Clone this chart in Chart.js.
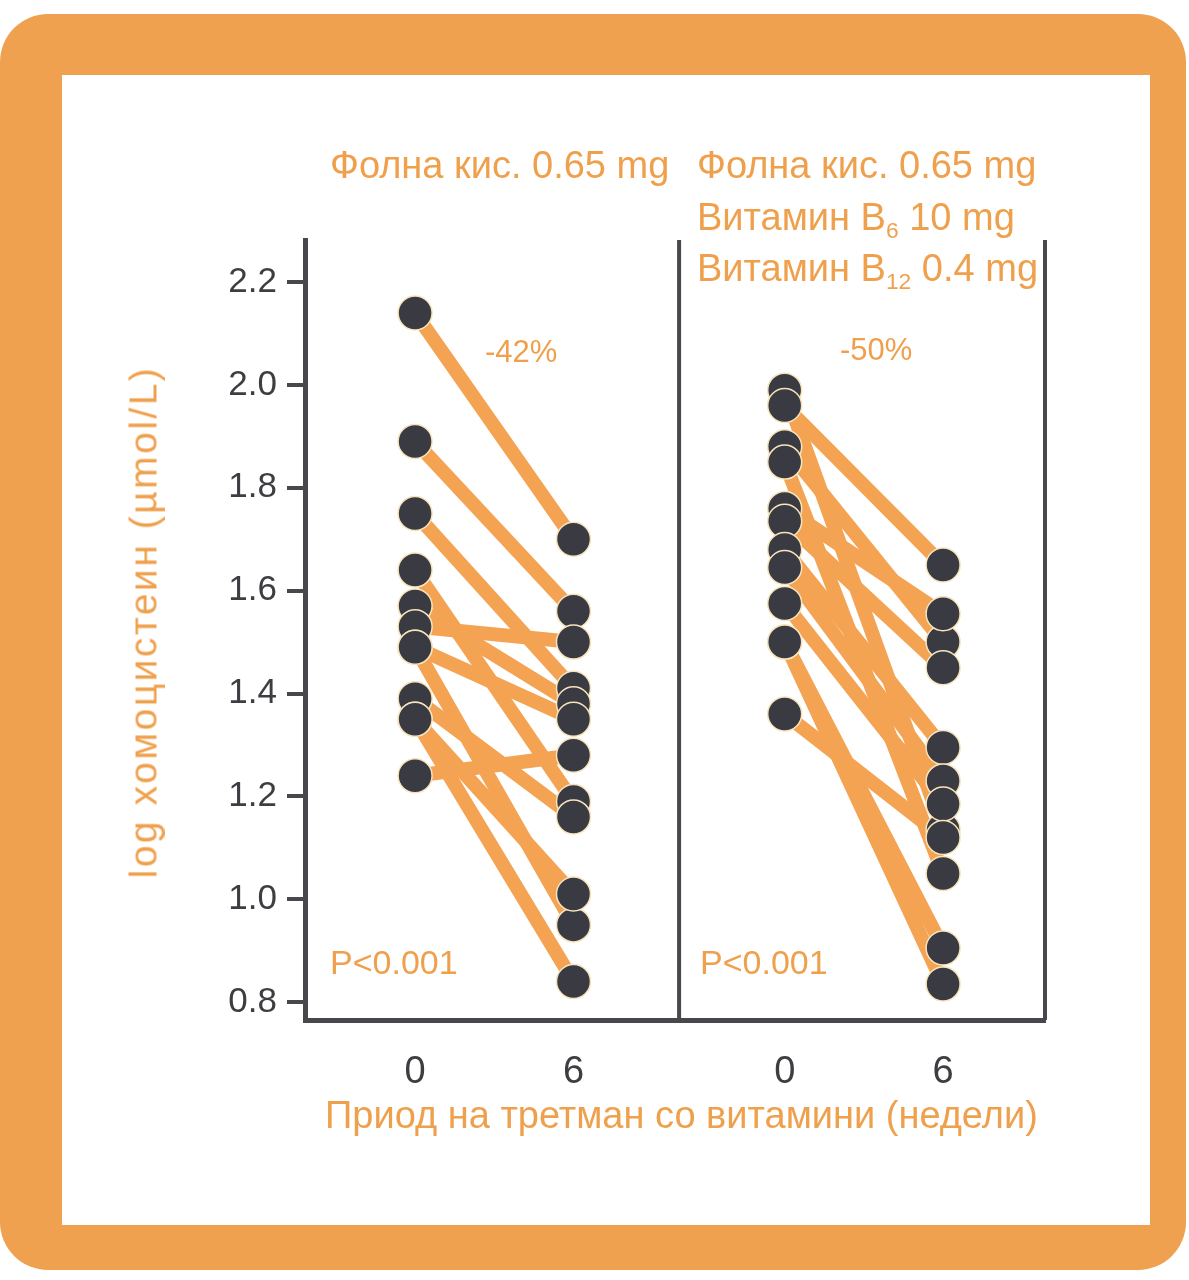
<!DOCTYPE html>
<html>
<head>
<meta charset="utf-8">
<script src="https://cdn.jsdelivr.net/npm/chart.js@4/dist/chart.umd.min.js"></script>
<style>
  body { margin: 0; background: #fff; width: 1189px; height: 1280px; position: relative; overflow: hidden; }
  .frame { position: absolute; left: 0; top: 14px; width: 1186px; height: 1256px; border-radius: 48px; background: #efa14f; }
  .inner { position: absolute; left: 62px; top: 75px; width: 1088px; height: 1150px; background: #fff; }
  #chartBox { position: absolute; left: 0; top: 0; width: 1189px; height: 1280px; }
  .lbl { position: absolute; color: #efa04c; font-family: "Liberation Sans Narrow", "Arial Narrow", "Liberation Sans", sans-serif; white-space: nowrap; line-height: 1; }
  .lbl sub { font-size: 60%; vertical-align: -0.35em; line-height: 0; }
</style>
</head>
<body>
<div class="frame"></div>
<div class="inner"></div>
<div id="chartBox"><canvas id="myChart"></canvas></div>

<div class="lbl" style="left:330px; top:146px; font-size:38px;">Фолна кис. 0.65 mg</div>
<div class="lbl" style="left:697px; top:146px; font-size:38px;">Фолна кис. 0.65 mg</div>
<div class="lbl" style="left:697px; top:198px; font-size:38px;">Витамин B<sub>6</sub> 10 mg</div>
<div class="lbl" style="left:697px; top:249px; font-size:38px;">Витамин B<sub>12</sub> 0.4 mg</div>
<div class="lbl" style="left:485px; top:336px; font-size:31px;">-42%</div>
<div class="lbl" style="left:840px; top:334px; font-size:31px;">-50%</div>
<div class="lbl" style="left:330px; top:945px; font-size:34px;">P&lt;0.001</div>
<div class="lbl" style="left:700px; top:945px; font-size:34px;">P&lt;0.001</div>
<div class="lbl" style="left:143px; top:622px; font-size:39px; letter-spacing:2.5px; transform: translate(-50%, -50%) rotate(-90deg);">log хомоцистеин (µmol/L)</div>
<div class="lbl" style="left:325px; top:1096px; font-size:38px;">Приод на третман со витамини (недели)</div>

<script>
// недели
const weeks = [0, 6];
// фолна киселина
const folicBefore = [2.14, 1.89, 1.75, 1.64, 1.57, 1.53, 1.49, 1.49, 1.39, 1.35, 1.35, 1.24];
const folicAfter  = [1.70, 1.56, 1.41, 1.19, 1.38, 1.50, 1.35, 0.95, 1.16, 1.01, 0.84, 1.28];
// фолна + B6 + B12
const comboBefore = [1.99, 1.96, 1.88, 1.85, 1.76, 1.735, 1.68, 1.645, 1.575, 1.50, 1.50, 1.36];
const comboAfter  = [1.135, 1.65, 1.50, 1.05, 1.555, 1.45, 1.295, 1.23, 1.185, 0.905, 0.835, 1.12];
const yTicks = [0.8, 1.0, 1.2, 1.4, 1.6, 1.8, 2.0, 2.2];

const PANEL2_SHIFT = 14;
const lineColor = '#f4a352';
const axisColor = '#48484c';

let datasets = [];
let dots = [];

function addPanel(before, after, shift) {
    for (let i = 0; i < before.length; i++) {
        let p0 = {x: weeks[0] + shift, y: before[i]};
        let p1 = {x: weeks[1] + shift, y: after[i]};
        datasets.push({
            data: [p0, p1],
            showLine: true,
            borderColor: lineColor,
            borderWidth: 14,
            pointRadius: 0,
            order: 2,
        });
        dots.push(p0, p1);
    }
}
addPanel(folicBefore, folicAfter, 0);
addPanel(comboBefore, comboAfter, PANEL2_SHIFT);

datasets.push({
    data: dots,
    pointRadius: 17,
    pointBackgroundColor: '#3a3b42',
    pointBorderColor: '#f7e4bc',
    pointBorderWidth: 1.5,
    order: 1,
});

// разделна линија и десна рамка
const panelLines = {
    id: 'panelLines',
    afterDraw(chart) {
        const ctx = chart.ctx;
        const area = chart.chartArea;
        const xs = chart.scales.x;
        ctx.save();
        ctx.strokeStyle = axisColor;
        ctx.lineWidth = 4;
        [xs.getPixelForValue(10), area.right].forEach(px => {
            ctx.beginPath();
            ctx.moveTo(px, area.top);
            ctx.lineTo(px, area.bottom);
            ctx.stroke();
        });
        ctx.restore();
    }
};

const ctx = document.getElementById('myChart').getContext('2d');
const chart = new Chart(ctx, {
    type: 'scatter',
    data: { datasets: datasets },
    plugins: [panelLines],
    options: {
        responsive: true,
        maintainAspectRatio: false,
        animation: false,
        layout: { padding: { left: 180, right: 144, top: 240, bottom: 180 } },
        plugins: { legend: { display: false }, tooltip: { enabled: false } },
        scales: {
            x: {
                type: 'linear',
                min: -4.17,
                max: 23.86,
                afterBuildTicks: scale => { scale.ticks = [0, 6, 14, 20].map(v => ({value: v})); },
                afterFit: scale => { scale.height = 80; },
                ticks: {
                    color: '#3e3e42',
                    font: { family: '"Liberation Sans Narrow", "Arial Narrow", sans-serif', size: 38 },
                    padding: 22,
                    maxRotation: 0,
                    callback: v => v >= PANEL2_SHIFT ? String(v - PANEL2_SHIFT) : String(v),
                },
                grid: { display: false },
                border: { color: axisColor, width: 5 },
            },
            y: {
                min: 0.765,
                max: 2.282,
                afterBuildTicks: scale => { scale.ticks = yTicks.map(v => ({value: v})); },
                afterFit: scale => { scale.width = 125; },
                ticks: {
                    color: '#3e3e42',
                    font: { family: '"Liberation Sans", Arial, sans-serif', size: 35 },
                    padding: 10,
                    callback: v => v.toFixed(1),
                },
                grid: {
                    display: true,
                    drawOnChartArea: false,
                    drawTicks: true,
                    tickLength: 18,
                    lineWidth: 4,
                    color: axisColor,
                },
                border: { color: axisColor, width: 5 },
            },
        },
    },
});
</script>
</body>
</html>
